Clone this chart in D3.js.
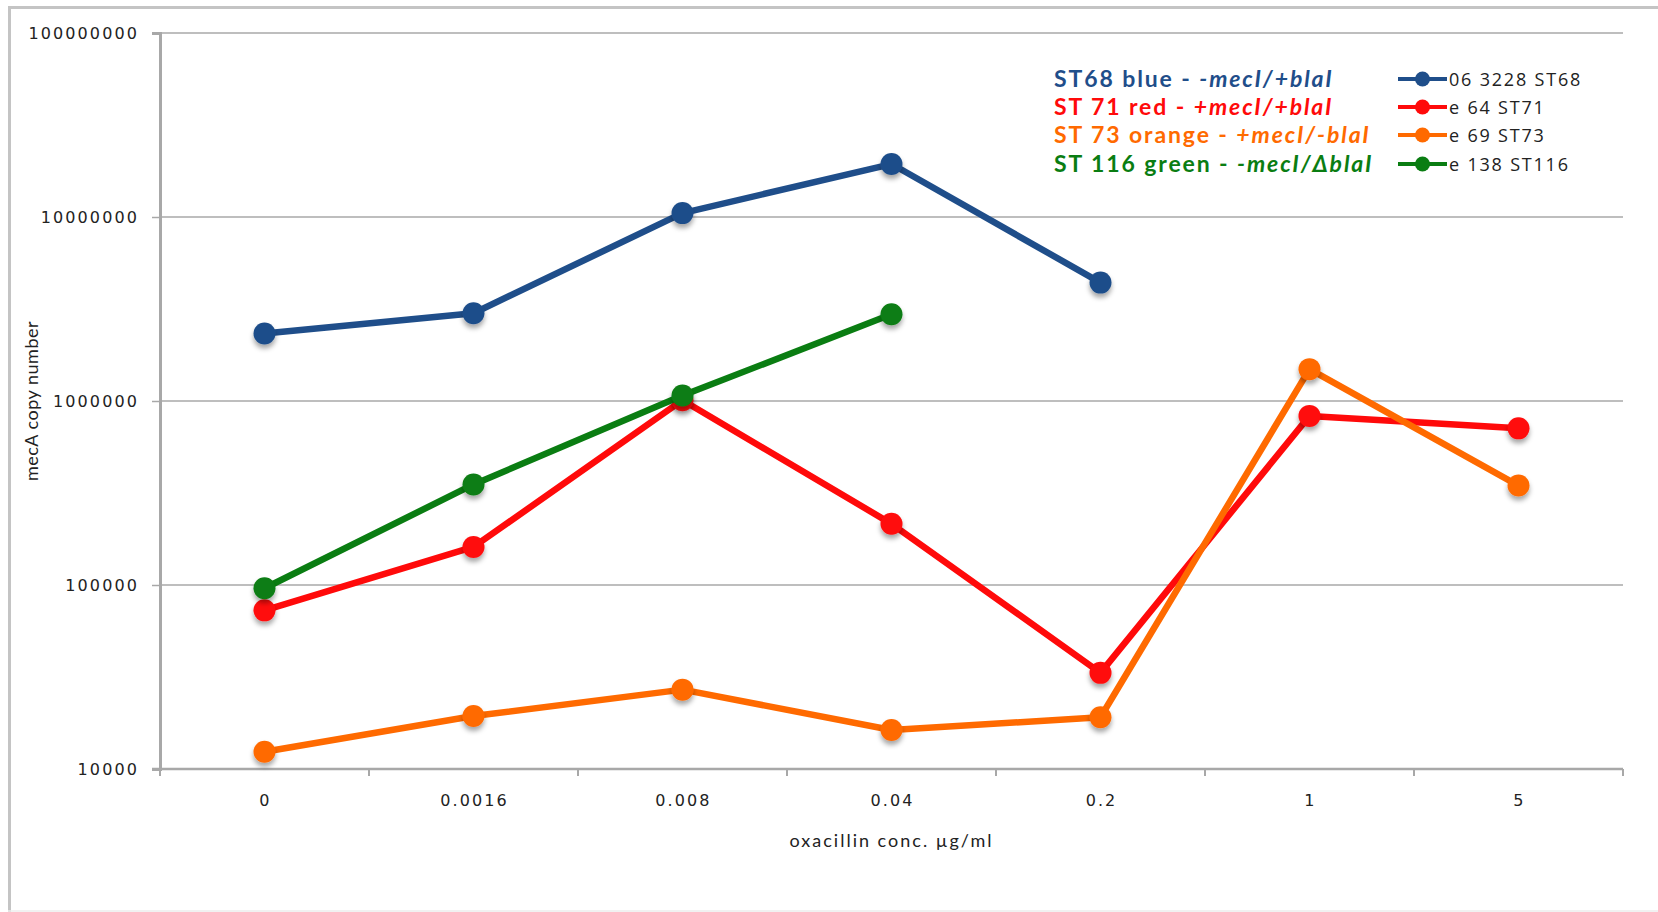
<!DOCTYPE html>
<html>
<head>
<meta charset="utf-8">
<script src="https://cdn.jsdelivr.net/npm/d3@7"></script>
<style>
  html, body { margin: 0; padding: 0; background: #ffffff; }
  svg { display: block; }
</style>
</head>
<body>
<svg id="chart" width="1658" height="912"></svg>
<script>
// Oxacillin concentrations (µg/ml) along the x axis
const concentrations = ["0", "0.0016", "0.008", "0.04", "0.2", "1", "5"];

// mecA copy number per strain at each concentration (null = not measured)
const st68Values  = [2330000, 3000000, 10500000, 19400000, 4400000, null, null];
const st71Values  = [72800, 161000, 1010000, 215000, 33300, 830000, 710000];
const st73Values  = [12400, 19400, 27000, 16300, 19100, 1490000, 347000];
const st116Values = [96000, 352000, 1070000, 2960000, null, null, null];

// Log-axis tick values
const yTicks = [10000, 100000, 1000000, 10000000, 100000000];

// Series names and legend descriptions
const seriesNames = ["06 3228 ST68", "e 64 ST71", "e 69 ST73", "e 138 ST116"];
const legendPlain = ["ST68 blue - ", "ST 71 red - ", "ST 73 orange - ", "ST 116 green - "];
const legendItalic = ["-mecI/+blaI", "+mecI/+blaI", "+mecI/-blaI", "-mecI/\u0394blaI"];
const seriesColors = ["#1f4e8a", "#ff0a0a", "#ff6a00", "#0a7d12"];

const series = [st68Values, st71Values, st73Values, st116Values].map((values, i) => ({
  name: seriesNames[i],
  color: seriesColors[i],
  points: values.map((v, j) => ({ cat: concentrations[j], value: v }))
}));

const svg = d3.select("#chart");

const defs = svg.append("defs");
const shadow = defs.append("filter")
  .attr("id", "markerShadow")
  .attr("x", "-50%").attr("y", "-50%")
  .attr("width", "200%").attr("height", "220%");
shadow.append("feDropShadow")
  .attr("dx", 0).attr("dy", 4)
  .attr("stdDeviation", 2.5)
  .attr("flood-color", "#000")
  .attr("flood-opacity", 0.35);

// Outer frame
svg.append("line").attr("x1", 9.5).attr("x2", 9.5).attr("y1", 6).attr("y2", 912)
  .attr("stroke", "#c4c4c4").attr("stroke-width", 3);
svg.append("line").attr("x1", 8).attr("x2", 1658).attr("y1", 7.5).attr("y2", 7.5)
  .attr("stroke", "#c4c4c4").attr("stroke-width", 3);
svg.append("line").attr("x1", 8).attr("x2", 1658).attr("y1", 911).attr("y2", 911)
  .attr("stroke", "#ececec").attr("stroke-width", 1.5);

const plot = { left: 160, right: 1623, top: 33, bottom: 769 };

const x = d3.scaleBand()
  .domain(concentrations)
  .range([plot.left, plot.right])
  .padding(0);

const y = d3.scaleLog()
  .domain([10000, 100000000])
  .range([plot.bottom, plot.top]);

const axisColor = "#a8a8a8";

// Horizontal gridlines
svg.append("g")
  .selectAll("line")
  .data(yTicks.slice(1))
  .join("line")
  .attr("x1", plot.left).attr("x2", plot.right)
  .attr("y1", d => y(d)).attr("y2", d => y(d))
  .attr("stroke", axisColor).attr("stroke-width", 1.5);

// Y axis
const yAxis = svg.append("g")
  .attr("transform", `translate(${plot.left},0)`)
  .call(d3.axisLeft(y).tickValues(yTicks).tickFormat(d3.format("d")).tickSize(8).tickPadding(0));
yAxis.select(".domain").attr("stroke", axisColor).attr("stroke-width", 3);
yAxis.selectAll(".tick line").attr("stroke", axisColor).attr("stroke-width", 1.5);
yAxis.selectAll(".tick text")
  .attr("x", -21)
  .attr("dy", "0.35em")
  .attr("fill", "#222")
  .style("font-family", "'DejaVu Sans', Verdana, sans-serif")
  .style("font-size", "16px")
  .style("letter-spacing", "2.1px");

// X axis with ticks at category boundaries
const boundaries = concentrations.map(c => x(c)).concat([plot.right]);
const xAxisG = svg.append("g");
xAxisG.append("line")
  .attr("x1", plot.left - 8).attr("x2", plot.right)
  .attr("y1", plot.bottom).attr("y2", plot.bottom)
  .attr("stroke", axisColor).attr("stroke-width", 2.5);
xAxisG.selectAll("line.tick")
  .data(boundaries)
  .join("line")
  .attr("class", "tick")
  .attr("x1", d => d).attr("x2", d => d)
  .attr("y1", plot.bottom).attr("y2", plot.bottom + 7)
  .attr("stroke", axisColor).attr("stroke-width", 2);
xAxisG.selectAll("text")
  .data(concentrations)
  .join("text")
  .attr("x", d => x(d) + x.bandwidth() / 2 + 1)
  .attr("y", 806)
  .attr("text-anchor", "middle")
  .attr("fill", "#222")
  .style("font-family", "'DejaVu Sans', Verdana, sans-serif")
  .style("font-size", "16px")
  .style("letter-spacing", "2.1px")
  .text(d => d);

// Axis titles
svg.append("text")
  .attr("x", (plot.left + plot.right) / 2)
  .attr("y", 847)
  .attr("text-anchor", "middle")
  .attr("fill", "#222")
  .style("font-family", "Lato, 'Open Sans', sans-serif")
  .style("font-size", "18px")
  .style("letter-spacing", "2px")
  .text("oxacillin conc. \u00b5g/ml");

svg.append("text")
  .attr("transform", `translate(38,${(plot.top + plot.bottom) / 2}) rotate(-90)`)
  .attr("text-anchor", "middle")
  .attr("fill", "#222")
  .style("font-family", "Lato, 'Open Sans', sans-serif")
  .style("font-size", "18px")
  .style("letter-spacing", "0.5px")
  .text("mecA copy number");

// Series lines and markers
const cx = d => x(d.cat) + x.bandwidth() / 2;
const line = d3.line()
  .defined(d => d.value !== null)
  .x(cx)
  .y(d => y(d.value));

const seriesG = svg.append("g")
  .selectAll("g")
  .data(series)
  .join("g");

seriesG.append("path")
  .attr("d", d => line(d.points))
  .attr("fill", "none")
  .attr("stroke", d => d.color)
  .attr("stroke-width", 6.5)
  .attr("stroke-linejoin", "round");

seriesG.selectAll("circle")
  .data(d => d.points.filter(p => p.value !== null).map(p => ({ ...p, color: d.color })))
  .join("circle")
  .attr("cx", cx)
  .attr("cy", d => y(d.value))
  .attr("r", 11)
  .attr("fill", d => d.color)
  .attr("filter", "url(#markerShadow)");

// Legend
const legend = svg.append("g");
const rowY = [79, 107, 135, 164];

const descr = legend.selectAll("text.descr")
  .data(series)
  .join("text")
  .attr("class", "descr")
  .attr("x", 1054)
  .attr("y", (d, i) => rowY[i] + 8)
  .attr("fill", d => d.color)
  .style("font-family", "Lato, 'Open Sans', sans-serif")
  .style("font-weight", "bold")
  .style("font-size", "23px")
  .style("letter-spacing", "1.9px");
descr.append("tspan").text((d, i) => legendPlain[i]);
descr.append("tspan").style("font-style", "italic").text((d, i) => legendItalic[i]);

const keyG = legend.selectAll("g.key")
  .data(series)
  .join("g")
  .attr("class", "key")
  .attr("transform", (d, i) => `translate(0,${rowY[i]})`);
keyG.append("line")
  .attr("x1", 1398).attr("x2", 1447)
  .attr("stroke", d => d.color).attr("stroke-width", 4);
keyG.append("circle")
  .attr("cx", 1422.5).attr("r", 7.5)
  .attr("fill", d => d.color);
keyG.append("text")
  .attr("x", 1449)
  .attr("y", 6.5)
  .attr("fill", "#222")
  .style("font-family", "'Open Sans', sans-serif")
  .style("font-size", "18px")
  .style("letter-spacing", "1.8px")
  .text(d => d.name);
</script>
</body>
</html>
